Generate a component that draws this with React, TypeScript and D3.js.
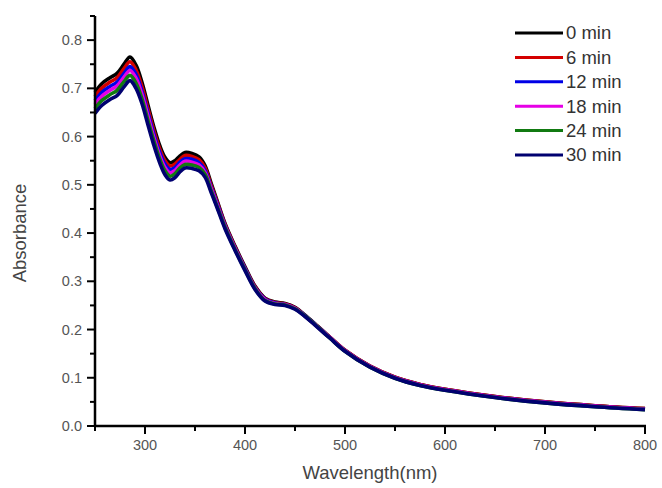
import React from "react";
import * as d3 from "d3";

const wavelengths = [250,257,265,272,279,285,291,297,303,309,315,320,325,330,335,340,347,354,360,366,372,380,390,400,410,420,430,440,450,460,470,485,500,525,550,575,600,650,700,750,800];

const min0 = [0.692,0.710,0.722,0.731,0.750,0.765,0.748,0.712,0.665,0.619,0.580,0.557,0.546,0.550,0.560,0.567,0.565,0.558,0.540,0.504,0.468,0.420,0.373,0.330,0.290,0.265,0.257,0.254,0.246,0.230,0.212,0.184,0.157,0.124,0.101,0.086,0.076,0.061,0.050,0.042,0.036];
const min6 = [0.683,0.701,0.713,0.722,0.741,0.755,0.738,0.703,0.657,0.611,0.573,0.550,0.539,0.543,0.553,0.561,0.559,0.552,0.535,0.500,0.465,0.418,0.371,0.328,0.289,0.264,0.256,0.253,0.245,0.229,0.211,0.184,0.157,0.124,0.101,0.086,0.076,0.061,0.050,0.042,0.036];
const min12 = [0.674,0.692,0.704,0.713,0.731,0.745,0.729,0.694,0.649,0.604,0.566,0.543,0.532,0.536,0.547,0.554,0.553,0.546,0.530,0.496,0.462,0.416,0.369,0.327,0.287,0.263,0.255,0.252,0.244,0.229,0.211,0.183,0.156,0.123,0.100,0.085,0.075,0.060,0.049,0.041,0.035];
const min18 = [0.667,0.684,0.696,0.705,0.723,0.737,0.721,0.687,0.642,0.597,0.559,0.536,0.525,0.530,0.541,0.549,0.547,0.541,0.526,0.493,0.459,0.414,0.368,0.325,0.286,0.262,0.254,0.252,0.244,0.228,0.210,0.183,0.156,0.123,0.100,0.085,0.075,0.060,0.049,0.041,0.035];
const min24 = [0.658,0.675,0.687,0.696,0.714,0.727,0.711,0.678,0.633,0.590,0.552,0.529,0.518,0.523,0.535,0.542,0.541,0.536,0.522,0.489,0.456,0.412,0.366,0.324,0.285,0.260,0.253,0.251,0.243,0.228,0.210,0.182,0.155,0.122,0.099,0.084,0.074,0.059,0.048,0.040,0.034];
const min30 = [0.648,0.665,0.677,0.685,0.703,0.716,0.700,0.668,0.624,0.581,0.544,0.521,0.510,0.515,0.527,0.535,0.534,0.529,0.516,0.485,0.453,0.409,0.364,0.322,0.283,0.259,0.252,0.250,0.242,0.227,0.209,0.182,0.155,0.122,0.099,0.084,0.074,0.059,0.048,0.040,0.034];

const seriesNames = ["0 min","6 min","12 min","18 min","24 min","30 min"];
const seriesValues = [min0, min6, min12, min18, min24, min30];
const seriesColors = ["#000000","#d40000","#0000e6","#e600e6","#117a11","#000070"];

const xTicks = [300,400,500,600,700,800];
const xMinor = [250,350,450,550,650,750];
const yTicks = [0.0,0.1,0.2,0.3,0.4,0.5,0.6,0.7,0.8];
const yMinor = [0.05,0.15,0.25,0.35,0.45,0.55,0.65,0.75,0.85];

export default function App() {
  const W = 662, H = 488;
  const left = 95, right = 645, top = 16, bottom = 426;
  const x = d3.scaleLinear().domain([250, 800]).range([left, right]);
  const y = d3.scaleLinear().domain([0, 0.85]).range([bottom, top]);
  const line = d3.line<[number, number]>()
    .x(d => x(d[0]))
    .y(d => y(d[1]))
    .curve(d3.curveCatmullRom.alpha(0.5));
  const font = "'Liberation Sans', Arial, sans-serif";
  return (
    <svg width={W} height={H} style={{ position: "absolute", left: 0, top: 0, background: "#fff" }} fontFamily={font}>
      {seriesValues.map((vals, i) => (
        <path key={i} d={line(wavelengths.map((w, j) => [w, vals[j]] as [number, number])) || ""}
          fill="none" stroke={seriesColors[i]} strokeWidth={3.6} strokeLinejoin="round" />
      ))}
      {/* axes */}
      <line x1={left} x2={left} y1={top} y2={bottom + 1} stroke="#000" strokeWidth={2.5} />
      <line x1={left - 1} x2={right + 1} y1={bottom} y2={bottom} stroke="#000" strokeWidth={2.5} />
      {yTicks.map(t => (
        <g key={"yt" + t}>
          <line x1={left - 8} x2={left} y1={y(t)} y2={y(t)} stroke="#000" strokeWidth={2} />
          <text x={left - 13} y={y(t)} dy="0.35em" textAnchor="end" fontSize={14.5} fill="#555">{t.toFixed(1)}</text>
        </g>
      ))}
      {yMinor.map(t => (
        <line key={"ym" + t} x1={left - 5} x2={left} y1={y(t)} y2={y(t)} stroke="#000" strokeWidth={2} />
      ))}
      {xTicks.map(t => (
        <g key={"xt" + t}>
          <line x1={x(t)} x2={x(t)} y1={bottom} y2={bottom + 8} stroke="#000" strokeWidth={2} />
          <text x={x(t)} y={bottom + 19} dy="0.35em" textAnchor="middle" fontSize={14.5} fill="#555">{t}</text>
        </g>
      ))}
      {xMinor.map(t => (
        <line key={"xm" + t} x1={x(t)} x2={x(t)} y1={bottom} y2={bottom + 5} stroke="#000" strokeWidth={2} />
      ))}
      <text x={370} y={473} dy="0.35em" textAnchor="middle" fontSize={18.5} fill="#444">Wavelength(nm)</text>
      <text transform={`translate(20,233) rotate(-90)`} dy="0.35em" textAnchor="middle" fontSize={18.5} fill="#444">Absorbance</text>
      {/* legend */}
      {seriesNames.map((n, i) => {
        const ly = 33 + i * 24.4;
        return (
          <g key={n}>
            <line x1={515} x2={563} y1={ly} y2={ly} stroke={seriesColors[i]} strokeWidth={3} />
            <text x={566} y={ly} dy="0.35em" fontSize={18.5} fill="#333">{n}</text>
          </g>
        );
      })}
    </svg>
  );
}
